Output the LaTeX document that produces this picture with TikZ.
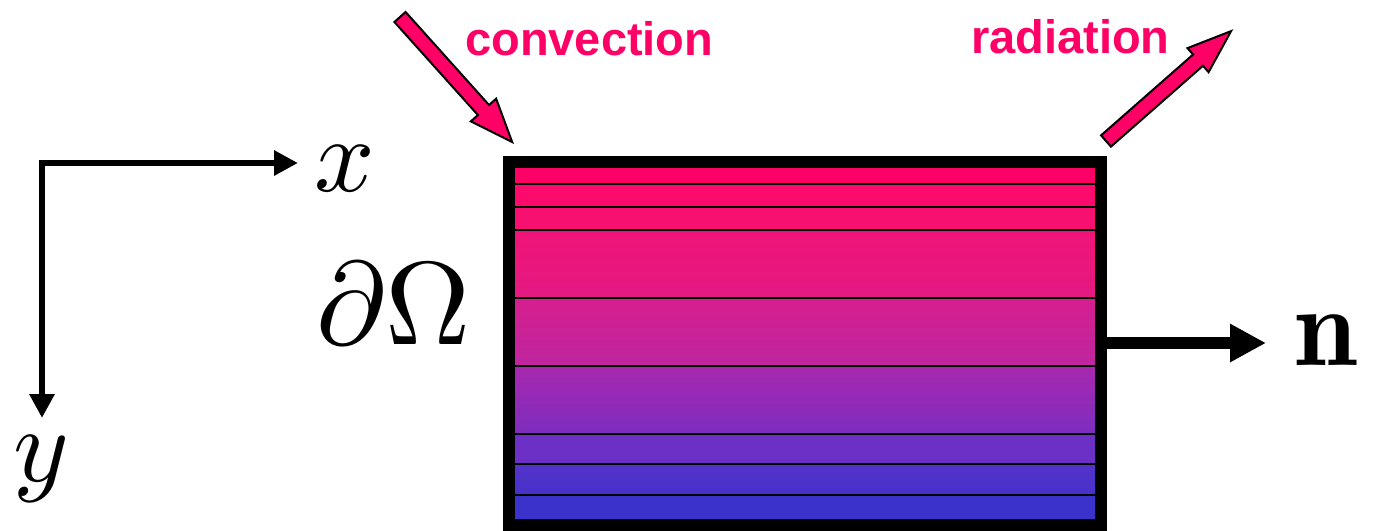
\documentclass[tikz,border=0pt]{standalone}
\usepackage{fontspec}
\newfontfamily\labelfont{Liberation Sans}
\usetikzlibrary{arrows.meta}
\definecolor{hot}{RGB}{255,0,102}
\definecolor{la}{RGB}{255,0,102}
\definecolor{lb}{RGB}{252,10,108}
\definecolor{lc}{RGB}{248,16,112}
\definecolor{ld}{RGB}{241,20,120}
\definecolor{le}{RGB}{226,26,130}
\definecolor{lf}{RGB}{214,30,142}
\definecolor{lg}{RGB}{190,38,160}
\definecolor{lh}{RGB}{168,40,175}
\definecolor{li}{RGB}{125,45,192}
\definecolor{lj}{RGB}{108,48,198}
\definecolor{lk}{RGB}{84,50,202}
\definecolor{ll}{RGB}{70,50,202}
\definecolor{lm}{RGB}{58,50,202}
\begin{document}
\begin{tikzpicture}[x=1pt,y=-1pt,
  mathlabel/.style={inner sep=0pt,scale=10.6},
  heatlabel/.style={inner sep=0pt,text=hot,font=\labelfont\bfseries\fontsize{47}{47}\selectfont},
  normal/.style={line width=12pt,-{Triangle[length=36pt,width=36pt]}},
  blockarrow/.style={fill=hot,draw=black,line width=2pt,line join=miter},
  sep/.style={line width=1.6pt,black}]
\useasboundingbox (0,0) rectangle (1381,530);

% layers
\shade[top color=la,bottom color=la] (515,168) rectangle (1095,184);
\shade[top color=lb,bottom color=lb] (515,184) rectangle (1095,207);
\shade[top color=lc,bottom color=lc] (515,207) rectangle (1095,230);
\shade[top color=ld,bottom color=le] (515,230) rectangle (1095,298);
\shade[top color=lf,bottom color=lg] (515,298) rectangle (1095,366);
\shade[top color=lh,bottom color=li] (515,366) rectangle (1095,434);
\shade[top color=lj,bottom color=lj] (515,434) rectangle (1095,464);
\shade[top color=lk,bottom color=ll] (515,464) rectangle (1095,495);
\shade[top color=lm,bottom color=lm] (515,495) rectangle (1095,519);
\foreach \yy in {184,207,230,298,366,434,464,495}
  \draw[sep] (515,\yy) -- (1095,\yy);
% frame
\draw[line width=12pt] (509,162) rectangle (1101,524.5);

% axes
\coordinate (O) at (42,163);
\coordinate (xtip) at (298,163);
\coordinate (ytip) at (42,418);
\draw[line width=6.8pt,line join=miter,{Triangle[length=24pt,width=24pt]}-{Triangle[length=24pt,width=24pt]}] (xtip) -- (O) -- (ytip);
\node[mathlabel,anchor=base] (xl) at (345,191) {$x$};
\node[mathlabel,anchor=base] (yl) at (41,481) {$y$};
\node[inner sep=0pt,anchor=base,scale=11.8] (dO) at (394,344) {$\partial\Omega$};

% normal
\coordinate (nstart) at (1107,343);
\coordinate (ntip) at (1266,343);
\draw[normal] (nstart) -- (ntip);
\node[inner sep=0pt,anchor=base,scale=11.3] (nl) at (1326,365) {$\mathbf{n}$};

% convection
\coordinate (convtail) at (400,17);
\coordinate (convtip) at (512,142);
\begin{scope}[shift={(convtail)},rotate=-48.1]
  \draw[blockarrow] (0,7.5) -- (125,7.5) -- (125,17) -- (168,0) -- (125,-17) -- (125,-7.5) -- (0,-7.5) -- cycle;
\end{scope}
\node[heatlabel,anchor=base west] (conv) at (465,55) {convection};

% radiation
\coordinate (radtail) at (1106,141);
\coordinate (radtip) at (1231,31);
\begin{scope}[shift={(radtail)},rotate=41.3]
  \draw[blockarrow] (0,7.5) -- (122.5,7.5) -- (122.5,16) -- (166.5,0) -- (122.5,-16) -- (122.5,-7.5) -- (0,-7.5) -- cycle;
\end{scope}
\node[heatlabel,anchor=base west] (rad) at (971,53) {radiation};
\end{tikzpicture}
\end{document}
